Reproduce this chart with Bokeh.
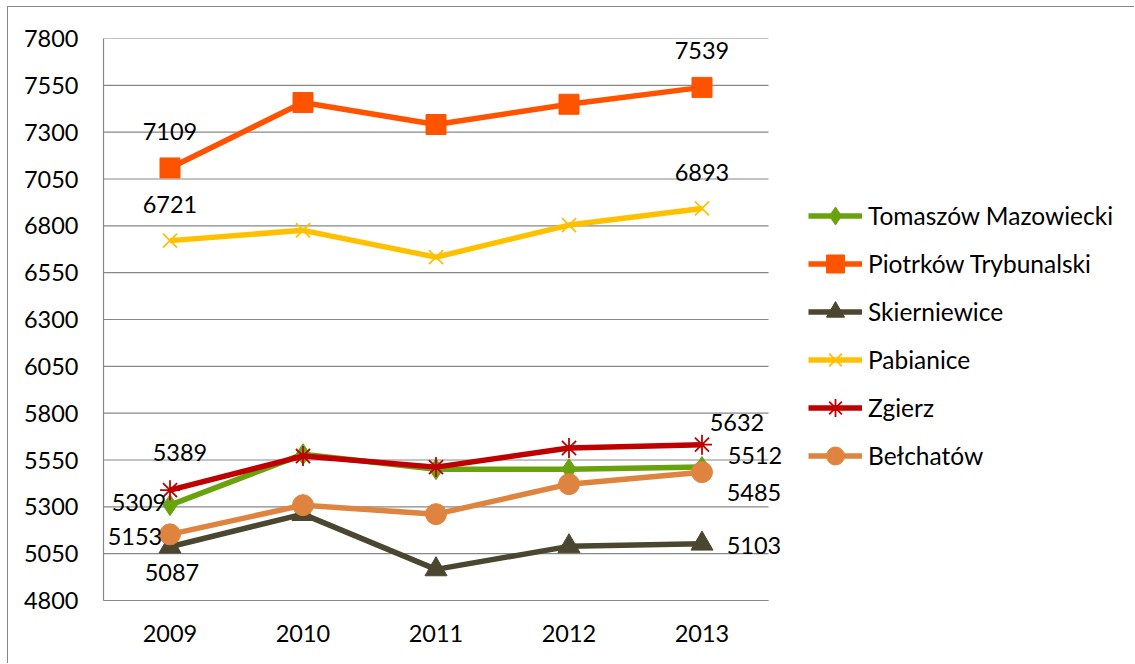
from bokeh.plotting import figure
from bokeh.models import (Range1d, FixedTicker, Legend, LegendItem,
                          ColumnDataSource, LabelSet)
from bokeh.core.properties import value
from bokeh.embed import file_html
from bokeh.resources import INLINE

years = ["2009", "2010", "2011", "2012", "2013"]
tomaszow = [5309, 5581, 5501, 5501, 5512]
piotrkow = [7109, 7458, 7341, 7449, 7539]
skierniewice = [5087, 5261, 4966, 5089, 5103]
pabianice = [6721, 6776, 6633, 6804, 6893]
zgierz = [5389, 5571, 5512, 5614, 5632]
belchatow = [5153, 5309, 5261, 5421, 5485]
y_ticks = list(range(4800, 7801, 250))

series_names = ["Tomaszów Mazowiecki", "Piotrków Trybunalski", "Skierniewice",
                "Pabianice", "Zgierz", "Bełchatów"]
series_values = [tomaszow, piotrkow, skierniewice, pabianice, zgierz, belchatow]

# styles
colors = ["#68A30E", "#FF5300", "#4B4630", "#FFC000", "#C00000", "#DF843E"]
markers = ["diamond", "square", "triangle", "x", "asterisk", "circle"]
msizes = [21, 20, 22, 20, 20, 21]
# data-label offsets (screen px, y down) for the first and last point of each series
label_offsets = [[(-31, -3), (53, -12)],
                 [(0, -36), (0, -37)],
                 [(2, 26), (52, 2)],
                 [(0, -36), (0, -36)],
                 [(10, -38), (35, -22)],
                 [(-35, 2), (52, 20)]]

FONT = "Lato"
FS = "23.5px"
LEGEND_FS = "24.5px"

xpos = list(range(len(years)))          # category slots on the x scale
x_lo, x_hi = -0.5, len(years) - 0.5     # extent of the category axis
x_view_end = x_lo + 1032 / 133          # room on the right for the legend

p = figure(width=1127, height=657, output_backend="svg", toolbar_location=None,
           x_range=Range1d(x_lo, x_view_end),
           y_range=Range1d(4800, 7800),
           min_border_left=95, min_border_right=0, min_border_top=31,
           min_border_bottom=64,
           styles={"margin-left": "7px", "margin-top": "6px",
                   "border-top": "1px solid #868686",
                   "border-left": "1px solid #868686"})
p.outline_line_color = None
p.background_fill_color = "white"
p.xgrid.grid_line_color = None
p.ygrid.grid_line_color = None

# horizontal gridlines limited to the category area
p.segment(x0=[x_lo] * len(y_ticks), y0=y_ticks, x1=[x_hi] * len(y_ticks),
          y1=y_ticks, line_color="#878787", line_width=1.2)

p.yaxis.ticker = FixedTicker(ticks=y_ticks)
p.xaxis.ticker = FixedTicker(ticks=xpos)
p.xaxis.major_label_overrides = {i: y for i, y in zip(xpos, years)}
p.xaxis.bounds = (x_lo, x_hi)
for ax in (p.xaxis[0], p.yaxis[0]):
    ax.axis_line_color = "#878787"
    ax.axis_line_width = 1.2
    ax.major_tick_line_color = None
    ax.minor_tick_line_color = None
    ax.major_tick_out = 0
    ax.major_tick_in = 0
    ax.major_label_text_font = FONT
    ax.major_label_text_font_size = FS
    ax.major_label_text_color = "black"
p.yaxis.major_label_standoff = 25
p.xaxis.major_label_standoff = 24

items = []
for name, vals, col, mk, ms, offs in zip(series_names, series_values, colors,
                                         markers, msizes, label_offsets):
    src = ColumnDataSource(dict(x=xpos, y=vals))
    ln = p.line("x", "y", source=src, line_color=col, line_width=5.5)
    if mk in ("x", "asterisk"):
        sc = p.scatter("x", "y", source=src, marker=mk, size=ms,
                       line_color=col, line_width=1.8)
    else:
        sc = p.scatter("x", "y", source=src, marker=mk, size=ms,
                       fill_color=col, line_color=col, line_width=1)
    items.append(LegendItem(label=name, renderers=[ln, sc]))
    lsrc = ColumnDataSource(dict(x=[xpos[0], xpos[-1]], y=[vals[0], vals[-1]],
                                 t=[str(vals[0]), str(vals[-1])],
                                 dx=[offs[0][0], offs[1][0]],
                                 dy=[-offs[0][1], -offs[1][1]]))
    p.add_layout(LabelSet(x="x", y="y", text="t", source=lsrc,
                          x_offset="dx", y_offset="dy",
                          text_align="center", text_baseline="middle",
                          text_font=value(FONT), text_font_size=value(FS),
                          text_color="black"))

legend = Legend(items=items, location=(705, 122), orientation="vertical",
                glyph_width=54, glyph_height=45, label_height=45, spacing=3,
                label_standoff=6, padding=0, margin=0,
                border_line_color=None, background_fill_alpha=0,
                label_text_font=FONT, label_text_font_size=LEGEND_FS,
                label_text_color="black")
p.add_layout(legend, "center")

open("out.html", "w").write(file_html(p, INLINE))
